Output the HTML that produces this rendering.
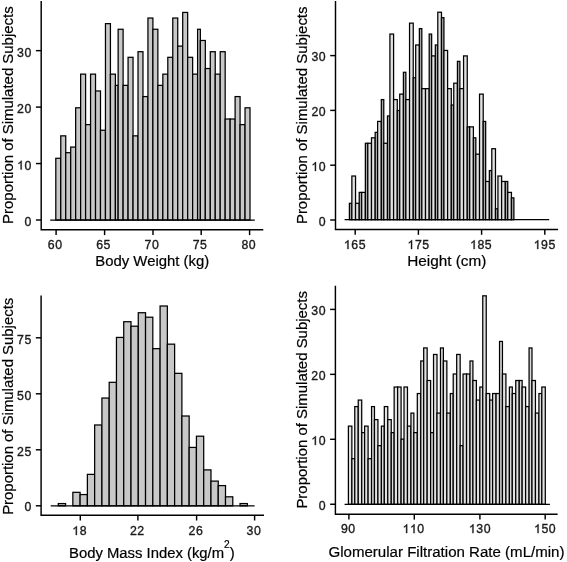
<!DOCTYPE html>
<html><head><meta charset="utf-8"><title>Histograms</title>
<style>
html,body{margin:0;padding:0;background:#fff;}
svg{display:block;filter:grayscale(1) blur(0.35px);}
text{font-family:"Liberation Sans",sans-serif;}
</style></head><body>
<svg width="567" height="562" viewBox="0 0 567 562">
<rect width="567" height="562" fill="#ffffff"/>
<g>
<g fill="#c8c8c8" stroke="#000" stroke-width="1.25" stroke-linejoin="miter">
<rect x="55.80" y="158.29" width="4.966" height="61.71"/>
<rect x="60.77" y="135.85" width="4.966" height="84.15"/>
<rect x="65.73" y="152.68" width="4.966" height="67.32"/>
<rect x="70.70" y="147.07" width="4.966" height="72.93"/>
<rect x="75.66" y="107.80" width="4.966" height="112.20"/>
<rect x="80.63" y="74.14" width="4.966" height="145.86"/>
<rect x="85.60" y="124.63" width="4.966" height="95.37"/>
<rect x="90.56" y="74.14" width="4.966" height="145.86"/>
<rect x="95.53" y="90.97" width="4.966" height="129.03"/>
<rect x="100.49" y="130.24" width="4.966" height="89.76"/>
<rect x="105.46" y="23.65" width="4.966" height="196.35"/>
<rect x="110.43" y="74.14" width="4.966" height="145.86"/>
<rect x="115.39" y="85.36" width="2.750" height="134.64"/>
<rect x="118.14" y="29.26" width="4.966" height="190.74"/>
<rect x="123.11" y="85.36" width="4.966" height="134.64"/>
<rect x="128.07" y="57.31" width="4.966" height="162.69"/>
<rect x="133.04" y="135.85" width="4.966" height="84.15"/>
<rect x="138.01" y="51.70" width="4.966" height="168.30"/>
<rect x="142.97" y="96.58" width="4.966" height="123.42"/>
<rect x="147.94" y="18.04" width="4.966" height="201.96"/>
<rect x="152.90" y="29.26" width="4.966" height="190.74"/>
<rect x="157.87" y="85.36" width="4.966" height="134.64"/>
<rect x="162.84" y="74.14" width="4.966" height="145.86"/>
<rect x="167.80" y="57.31" width="4.966" height="162.69"/>
<rect x="172.77" y="18.04" width="4.966" height="201.96"/>
<rect x="177.73" y="46.09" width="4.966" height="173.91"/>
<rect x="182.70" y="12.43" width="4.966" height="207.57"/>
<rect x="187.67" y="57.31" width="4.966" height="162.69"/>
<rect x="192.63" y="74.14" width="4.966" height="145.86"/>
<rect x="197.60" y="29.26" width="2.750" height="190.74"/>
<rect x="200.35" y="40.48" width="4.966" height="179.52"/>
<rect x="205.31" y="68.53" width="4.966" height="151.47"/>
<rect x="210.28" y="51.70" width="4.966" height="168.30"/>
<rect x="215.25" y="74.14" width="4.966" height="145.86"/>
<rect x="220.21" y="51.70" width="4.966" height="168.30"/>
<rect x="225.18" y="119.02" width="4.966" height="100.98"/>
<rect x="230.14" y="119.02" width="4.966" height="100.98"/>
<rect x="235.11" y="96.58" width="4.966" height="123.42"/>
<rect x="240.08" y="124.63" width="4.966" height="95.37"/>
<rect x="245.04" y="107.80" width="4.966" height="112.20"/>
</g>
<line x1="50.2" y1="220.0" x2="254.8" y2="220.0" stroke="#000" stroke-width="1.25"/>
<g stroke="#000" stroke-width="1.45" fill="none">
<path d="M41.2 1.0 V229.8 H263.3"/>
<line x1="35.90" y1="220.00" x2="41.2" y2="220.00"/>
<line x1="35.90" y1="163.55" x2="41.2" y2="163.55"/>
<line x1="35.90" y1="107.10" x2="41.2" y2="107.10"/>
<line x1="35.90" y1="50.65" x2="41.2" y2="50.65"/>
<line x1="56.1" y1="229.8" x2="56.1" y2="235.10"/>
<line x1="104.6" y1="229.8" x2="104.6" y2="235.10"/>
<line x1="153.0" y1="229.8" x2="153.0" y2="235.10"/>
<line x1="201.2" y1="229.8" x2="201.2" y2="235.10"/>
<line x1="249.6" y1="229.8" x2="249.6" y2="235.10"/>
</g>
<g font-size="12.3" fill="#1a1a1a" stroke="#1a1a1a" stroke-width="0.35">
<text x="24.49" y="226.00">0</text>
<path transform="translate(17.11 169.55) scale(0.00601 -0.00601)" d="M763 0H583V1147Q518 1085 412.5 1023Q307 961 223 930V1104Q374 1175 487 1276Q600 1377 647 1472H763Z" stroke-width="58"/><text x="24.49" y="169.55">0</text>
<text x="17.11" y="113.10">2</text><text x="24.49" y="113.10">0</text>
<text x="17.11" y="56.65">3</text><text x="24.49" y="56.65">0</text>
<text x="47.79" y="249.00">6</text><text x="55.17" y="249.00">0</text>
<text x="96.19" y="249.00">6</text><text x="103.57" y="249.00">5</text>
<text x="144.59" y="249.00">7</text><text x="151.97" y="249.00">0</text>
<text x="192.69" y="249.00">7</text><text x="200.07" y="249.00">5</text>
<text x="241.39" y="249.00">8</text><text x="248.77" y="249.00">0</text>
</g>
<text x="152.25" y="266.3" font-size="14.9" fill="#000" stroke="#000" stroke-width="0.2" text-anchor="middle">Body Weight (kg)</text>
<text transform="translate(13.3 115.15) rotate(-90)" font-size="14.95" fill="#000" stroke="#000" stroke-width="0.2" text-anchor="middle">Proportion of Simulated Subjects</text>
</g>
<g>
<g fill="#e2e2e2" stroke="#000" stroke-width="1.25" stroke-linejoin="miter">
<rect x="349.40" y="203.32" width="2.455" height="16.38" fill="#a8a8a8"/>
<rect x="351.86" y="176.02" width="3.683" height="43.68"/>
<rect x="355.54" y="203.32" width="3.683" height="16.38"/>
<rect x="359.22" y="192.40" width="2.455" height="27.30" fill="#a8a8a8"/>
<rect x="361.68" y="192.40" width="3.683" height="27.30"/>
<rect x="365.36" y="143.26" width="2.455" height="76.44" fill="#a8a8a8"/>
<rect x="367.81" y="143.26" width="3.683" height="76.44"/>
<rect x="371.50" y="137.80" width="3.683" height="81.90"/>
<rect x="375.18" y="132.34" width="2.455" height="87.36" fill="#a8a8a8"/>
<rect x="377.64" y="121.42" width="3.683" height="98.28"/>
<rect x="381.32" y="99.58" width="2.455" height="120.12" fill="#a8a8a8"/>
<rect x="383.77" y="143.26" width="3.683" height="76.44"/>
<rect x="387.46" y="115.96" width="2.455" height="103.74" fill="#a8a8a8"/>
<rect x="389.91" y="34.06" width="3.683" height="185.64"/>
<rect x="393.59" y="99.58" width="3.683" height="120.12"/>
<rect x="397.28" y="110.50" width="2.455" height="109.20" fill="#a8a8a8"/>
<rect x="399.73" y="94.12" width="3.683" height="125.58"/>
<rect x="403.41" y="72.28" width="2.455" height="147.42" fill="#a8a8a8"/>
<rect x="405.87" y="99.58" width="3.683" height="120.12"/>
<rect x="409.55" y="23.14" width="3.683" height="196.56"/>
<rect x="413.24" y="77.74" width="2.455" height="141.96" fill="#a8a8a8"/>
<rect x="415.69" y="44.98" width="3.683" height="174.72"/>
<rect x="419.37" y="28.60" width="2.455" height="191.10" fill="#a8a8a8"/>
<rect x="421.83" y="88.66" width="3.683" height="131.04"/>
<rect x="425.51" y="88.66" width="3.683" height="131.04"/>
<rect x="429.19" y="34.06" width="2.455" height="185.64" fill="#a8a8a8"/>
<rect x="431.65" y="55.90" width="3.683" height="163.80"/>
<rect x="435.33" y="44.98" width="2.455" height="174.72" fill="#a8a8a8"/>
<rect x="437.79" y="12.22" width="3.683" height="207.48"/>
<rect x="441.47" y="17.68" width="2.455" height="202.02" fill="#a8a8a8"/>
<rect x="443.93" y="50.44" width="3.683" height="169.26"/>
<rect x="447.61" y="88.66" width="3.683" height="131.04"/>
<rect x="451.29" y="105.04" width="2.455" height="114.66" fill="#a8a8a8"/>
<rect x="453.75" y="83.20" width="3.683" height="136.50"/>
<rect x="457.43" y="61.36" width="2.455" height="158.34" fill="#a8a8a8"/>
<rect x="459.89" y="88.66" width="3.683" height="131.04"/>
<rect x="463.57" y="55.90" width="3.683" height="163.80"/>
<rect x="467.25" y="126.88" width="2.455" height="92.82" fill="#a8a8a8"/>
<rect x="469.71" y="126.88" width="3.683" height="92.82"/>
<rect x="473.39" y="137.80" width="2.455" height="81.90" fill="#a8a8a8"/>
<rect x="475.84" y="154.18" width="3.683" height="65.52"/>
<rect x="479.53" y="94.12" width="3.683" height="125.58"/>
<rect x="483.21" y="121.42" width="2.455" height="98.28" fill="#a8a8a8"/>
<rect x="485.66" y="181.48" width="3.683" height="38.22"/>
<rect x="489.35" y="170.56" width="2.455" height="49.14" fill="#a8a8a8"/>
<rect x="491.80" y="148.72" width="3.683" height="70.98"/>
<rect x="495.49" y="208.78" width="2.455" height="10.92" fill="#a8a8a8"/>
<rect x="497.94" y="176.02" width="3.683" height="43.68"/>
<rect x="501.62" y="181.48" width="3.683" height="38.22"/>
<rect x="505.31" y="181.48" width="2.455" height="38.22" fill="#a8a8a8"/>
<rect x="507.76" y="192.40" width="3.683" height="27.30"/>
<rect x="511.44" y="197.86" width="2.455" height="21.84" fill="#a8a8a8"/>
</g>
<line x1="344.6" y1="219.7" x2="549.2" y2="219.7" stroke="#000" stroke-width="1.25"/>
<g stroke="#000" stroke-width="1.45" fill="none">
<path d="M335.5 1.0 V229.5 H558.1"/>
<line x1="330.20" y1="220.00" x2="335.5" y2="220.00"/>
<line x1="330.20" y1="165.20" x2="335.5" y2="165.20"/>
<line x1="330.20" y1="110.40" x2="335.5" y2="110.40"/>
<line x1="330.20" y1="55.60" x2="335.5" y2="55.60"/>
<line x1="355.2" y1="229.5" x2="355.2" y2="234.80"/>
<line x1="418.4" y1="229.5" x2="418.4" y2="234.80"/>
<line x1="481.6" y1="229.5" x2="481.6" y2="234.80"/>
<line x1="544.8" y1="229.5" x2="544.8" y2="234.80"/>
</g>
<g font-size="12.3" fill="#1a1a1a" stroke="#1a1a1a" stroke-width="0.35">
<text x="318.79" y="225.70">0</text>
<path transform="translate(311.41 170.90) scale(0.00601 -0.00601)" d="M763 0H583V1147Q518 1085 412.5 1023Q307 961 223 930V1104Q374 1175 487 1276Q600 1377 647 1472H763Z" stroke-width="58"/><text x="318.79" y="170.90">0</text>
<text x="311.41" y="116.10">2</text><text x="318.79" y="116.10">0</text>
<text x="311.41" y="61.30">3</text><text x="318.79" y="61.30">0</text>
<path transform="translate(343.90 249.00) scale(0.00601 -0.00601)" d="M763 0H583V1147Q518 1085 412.5 1023Q307 961 223 930V1104Q374 1175 487 1276Q600 1377 647 1472H763Z" stroke-width="58"/><text x="351.28" y="249.00">6</text><text x="358.66" y="249.00">5</text>
<path transform="translate(407.50 249.00) scale(0.00601 -0.00601)" d="M763 0H583V1147Q518 1085 412.5 1023Q307 961 223 930V1104Q374 1175 487 1276Q600 1377 647 1472H763Z" stroke-width="58"/><text x="414.88" y="249.00">7</text><text x="422.26" y="249.00">5</text>
<path transform="translate(470.10 249.00) scale(0.00601 -0.00601)" d="M763 0H583V1147Q518 1085 412.5 1023Q307 961 223 930V1104Q374 1175 487 1276Q600 1377 647 1472H763Z" stroke-width="58"/><text x="477.48" y="249.00">8</text><text x="484.86" y="249.00">5</text>
<path transform="translate(533.70 249.00) scale(0.00601 -0.00601)" d="M763 0H583V1147Q518 1085 412.5 1023Q307 961 223 930V1104Q374 1175 487 1276Q600 1377 647 1472H763Z" stroke-width="58"/><text x="541.08" y="249.00">9</text><text x="548.46" y="249.00">5</text>
</g>
<text x="446.80" y="266.3" font-size="15.35" fill="#000" stroke="#000" stroke-width="0.2" text-anchor="middle">Height (cm)</text>
<text transform="translate(306.8 115.30) rotate(-90)" font-size="14.95" fill="#000" stroke="#000" stroke-width="0.2" text-anchor="middle">Proportion of Simulated Subjects</text>
</g>
<g>
<g fill="#c8c8c8" stroke="#000" stroke-width="1.25" stroke-linejoin="miter">
<rect x="58.30" y="503.56" width="7.270" height="2.25"/>
<rect x="72.84" y="492.33" width="7.270" height="13.47"/>
<rect x="80.11" y="494.57" width="7.270" height="11.23"/>
<rect x="87.38" y="474.37" width="7.270" height="31.43"/>
<rect x="94.65" y="424.98" width="7.270" height="80.82"/>
<rect x="101.92" y="398.04" width="7.270" height="107.76"/>
<rect x="109.19" y="382.32" width="7.270" height="123.48"/>
<rect x="116.46" y="337.43" width="7.270" height="168.38"/>
<rect x="123.73" y="321.71" width="7.270" height="184.09"/>
<rect x="131.00" y="326.20" width="7.270" height="179.60"/>
<rect x="138.27" y="312.73" width="7.270" height="193.07"/>
<rect x="145.54" y="317.22" width="7.270" height="188.58"/>
<rect x="152.81" y="348.65" width="7.270" height="157.15"/>
<rect x="160.08" y="306.00" width="7.270" height="199.81"/>
<rect x="167.35" y="344.16" width="7.270" height="161.64"/>
<rect x="174.62" y="373.35" width="7.270" height="132.46"/>
<rect x="181.89" y="416.00" width="7.270" height="89.80"/>
<rect x="189.16" y="447.43" width="7.270" height="58.37"/>
<rect x="196.43" y="436.21" width="7.270" height="69.59"/>
<rect x="203.70" y="469.88" width="7.270" height="35.92"/>
<rect x="210.97" y="481.11" width="7.270" height="24.70"/>
<rect x="218.24" y="485.60" width="7.270" height="20.21"/>
<rect x="225.51" y="496.82" width="7.270" height="8.98"/>
<rect x="240.05" y="503.56" width="7.270" height="2.25"/>
</g>
<line x1="50.7" y1="505.8" x2="254.6" y2="505.8" stroke="#000" stroke-width="1.25"/>
<g stroke="#000" stroke-width="1.45" fill="none">
<path d="M41.1 295.5 V515.2 H264.0"/>
<line x1="35.80" y1="505.80" x2="41.1" y2="505.80"/>
<line x1="35.80" y1="449.80" x2="41.1" y2="449.80"/>
<line x1="35.80" y1="393.80" x2="41.1" y2="393.80"/>
<line x1="35.80" y1="337.80" x2="41.1" y2="337.80"/>
<line x1="80.3" y1="515.2" x2="80.3" y2="520.50"/>
<line x1="137.9" y1="515.2" x2="137.9" y2="520.50"/>
<line x1="196.6" y1="515.2" x2="196.6" y2="520.50"/>
<line x1="254.6" y1="515.2" x2="254.6" y2="520.50"/>
</g>
<g font-size="12.3" fill="#1a1a1a" stroke="#1a1a1a" stroke-width="0.35">
<text x="24.39" y="511.10">0</text>
<text x="17.01" y="455.70">2</text><text x="24.39" y="455.70">5</text>
<text x="17.01" y="399.70">5</text><text x="24.39" y="399.70">0</text>
<text x="17.01" y="343.70">7</text><text x="24.39" y="343.70">5</text>
<path transform="translate(72.29 535.00) scale(0.00601 -0.00601)" d="M763 0H583V1147Q518 1085 412.5 1023Q307 961 223 930V1104Q374 1175 487 1276Q600 1377 647 1472H763Z" stroke-width="58"/><text x="79.67" y="535.00">8</text>
<text x="129.89" y="535.00">2</text><text x="137.27" y="535.00">2</text>
<text x="188.59" y="535.00">2</text><text x="195.97" y="535.00">6</text>
<text x="246.59" y="535.00">3</text><text x="253.97" y="535.00">0</text>
</g>
<text x="151.85" y="557.6" font-size="14.85" fill="#000" stroke="#000" stroke-width="0.2" text-anchor="middle">Body Mass Index (kg/m<tspan font-size="10.2" dy="-9.6">2</tspan><tspan dy="9.6">)</tspan></text>
<text transform="translate(13.3 406.30) rotate(-90)" font-size="14.92" fill="#000" stroke="#000" stroke-width="0.2" text-anchor="middle">Proportion of Simulated Subjects</text>
</g>
<g>
<g fill="#e2e2e2" stroke="#000" stroke-width="1.25" stroke-linejoin="miter">
<rect x="348.40" y="426.12" width="3.470" height="78.18"/>
<rect x="351.87" y="458.69" width="2.904" height="45.60" fill="#dcdcdc"/>
<rect x="354.77" y="406.58" width="3.470" height="97.72"/>
<rect x="358.24" y="400.06" width="3.470" height="104.24"/>
<rect x="361.72" y="432.63" width="2.904" height="71.66" fill="#dcdcdc"/>
<rect x="364.62" y="426.12" width="3.470" height="78.18"/>
<rect x="368.09" y="458.69" width="3.470" height="45.60"/>
<rect x="371.56" y="406.58" width="2.904" height="97.72" fill="#dcdcdc"/>
<rect x="374.46" y="419.61" width="3.470" height="84.69"/>
<rect x="377.93" y="445.67" width="3.470" height="58.63"/>
<rect x="381.40" y="426.12" width="2.904" height="78.18" fill="#dcdcdc"/>
<rect x="384.31" y="406.58" width="3.470" height="97.72"/>
<rect x="387.78" y="419.61" width="3.470" height="84.69"/>
<rect x="391.25" y="432.63" width="2.904" height="71.66" fill="#dcdcdc"/>
<rect x="394.15" y="387.03" width="3.470" height="117.27"/>
<rect x="397.62" y="387.03" width="3.470" height="117.27"/>
<rect x="401.09" y="439.15" width="2.904" height="65.15" fill="#dcdcdc"/>
<rect x="404.00" y="387.03" width="3.470" height="117.27"/>
<rect x="407.47" y="426.12" width="3.470" height="78.18"/>
<rect x="410.94" y="413.09" width="2.904" height="91.21" fill="#dcdcdc"/>
<rect x="413.84" y="432.63" width="3.470" height="71.66"/>
<rect x="417.31" y="393.55" width="3.470" height="110.75"/>
<rect x="420.78" y="360.97" width="2.904" height="143.33" fill="#dcdcdc"/>
<rect x="423.69" y="347.94" width="3.470" height="156.36"/>
<rect x="427.16" y="380.51" width="3.470" height="123.78"/>
<rect x="430.63" y="432.63" width="2.904" height="71.66" fill="#dcdcdc"/>
<rect x="433.53" y="354.46" width="3.470" height="149.84"/>
<rect x="437.00" y="413.09" width="3.470" height="91.21"/>
<rect x="440.47" y="347.94" width="2.904" height="156.36" fill="#dcdcdc"/>
<rect x="443.38" y="360.97" width="3.470" height="143.33"/>
<rect x="446.85" y="413.09" width="3.470" height="91.21"/>
<rect x="450.32" y="393.55" width="2.904" height="110.75" fill="#dcdcdc"/>
<rect x="453.22" y="374.00" width="3.470" height="130.30"/>
<rect x="456.69" y="354.46" width="3.470" height="149.84"/>
<rect x="460.16" y="445.67" width="2.904" height="58.63" fill="#dcdcdc"/>
<rect x="463.07" y="374.00" width="3.470" height="130.30"/>
<rect x="466.54" y="374.00" width="3.470" height="130.30"/>
<rect x="470.01" y="360.97" width="2.904" height="143.33" fill="#dcdcdc"/>
<rect x="472.91" y="380.51" width="3.470" height="123.78"/>
<rect x="476.38" y="400.06" width="3.470" height="104.24"/>
<rect x="479.85" y="387.03" width="2.904" height="117.27" fill="#dcdcdc"/>
<rect x="482.76" y="295.82" width="3.470" height="208.48"/>
<rect x="486.23" y="393.55" width="3.470" height="110.75"/>
<rect x="489.70" y="400.06" width="2.904" height="104.24" fill="#dcdcdc"/>
<rect x="492.60" y="393.55" width="3.470" height="110.75"/>
<rect x="496.07" y="393.55" width="3.470" height="110.75"/>
<rect x="499.54" y="341.43" width="2.904" height="162.88" fill="#dcdcdc"/>
<rect x="502.45" y="374.00" width="3.470" height="130.30"/>
<rect x="505.92" y="406.58" width="3.470" height="97.72"/>
<rect x="509.39" y="387.03" width="2.904" height="117.27" fill="#dcdcdc"/>
<rect x="512.29" y="393.55" width="3.470" height="110.75"/>
<rect x="515.76" y="380.51" width="3.470" height="123.78"/>
<rect x="519.23" y="380.51" width="2.904" height="123.78" fill="#dcdcdc"/>
<rect x="522.14" y="387.03" width="3.470" height="117.27"/>
<rect x="525.61" y="406.58" width="3.470" height="97.72"/>
<rect x="529.08" y="347.94" width="2.904" height="156.36" fill="#dcdcdc"/>
<rect x="531.98" y="380.51" width="3.470" height="123.78"/>
<rect x="535.45" y="413.09" width="3.470" height="91.21"/>
<rect x="538.92" y="393.55" width="2.904" height="110.75" fill="#dcdcdc"/>
<rect x="541.83" y="387.03" width="3.470" height="117.27"/>
</g>
<line x1="344.6" y1="504.3" x2="549.9" y2="504.3" stroke="#000" stroke-width="1.25"/>
<g stroke="#000" stroke-width="1.45" fill="none">
<path d="M335.4 285.7 V514.3 H557.6"/>
<line x1="330.10" y1="504.25" x2="335.4" y2="504.25"/>
<line x1="330.10" y1="439.30" x2="335.4" y2="439.30"/>
<line x1="330.10" y1="374.35" x2="335.4" y2="374.35"/>
<line x1="330.10" y1="309.40" x2="335.4" y2="309.40"/>
<line x1="348.9" y1="514.3" x2="348.9" y2="519.60"/>
<line x1="414.3" y1="514.3" x2="414.3" y2="519.60"/>
<line x1="479.9" y1="514.3" x2="479.9" y2="519.60"/>
<line x1="545.2" y1="514.3" x2="545.2" y2="519.60"/>
</g>
<g font-size="12.3" fill="#1a1a1a" stroke="#1a1a1a" stroke-width="0.35">
<text x="318.69" y="509.95">0</text>
<path transform="translate(311.31 445.00) scale(0.00601 -0.00601)" d="M763 0H583V1147Q518 1085 412.5 1023Q307 961 223 930V1104Q374 1175 487 1276Q600 1377 647 1472H763Z" stroke-width="58"/><text x="318.69" y="445.00">0</text>
<text x="311.31" y="380.05">2</text><text x="318.69" y="380.05">0</text>
<text x="311.31" y="315.10">3</text><text x="318.69" y="315.10">0</text>
<text x="340.89" y="533.10">9</text><text x="348.27" y="533.10">0</text>
<path transform="translate(402.60 533.10) scale(0.00601 -0.00601)" d="M763 0H583V1147Q518 1085 412.5 1023Q307 961 223 930V1104Q374 1175 487 1276Q600 1377 647 1472H763Z" stroke-width="58"/><path transform="translate(409.98 533.10) scale(0.00601 -0.00601)" d="M763 0H583V1147Q518 1085 412.5 1023Q307 961 223 930V1104Q374 1175 487 1276Q600 1377 647 1472H763Z" stroke-width="58"/><text x="417.36" y="533.10">0</text>
<path transform="translate(468.90 533.10) scale(0.00601 -0.00601)" d="M763 0H583V1147Q518 1085 412.5 1023Q307 961 223 930V1104Q374 1175 487 1276Q600 1377 647 1472H763Z" stroke-width="58"/><text x="476.28" y="533.10">3</text><text x="483.66" y="533.10">0</text>
<path transform="translate(534.00 533.10) scale(0.00601 -0.00601)" d="M763 0H583V1147Q518 1085 412.5 1023Q307 961 223 930V1104Q374 1175 487 1276Q600 1377 647 1472H763Z" stroke-width="58"/><text x="541.38" y="533.10">5</text><text x="548.76" y="533.10">0</text>
</g>
<text x="446.50" y="557.4" font-size="15.07" fill="#000" stroke="#000" stroke-width="0.2" text-anchor="middle">Glomerular Filtration Rate (mL/min)</text>
<text transform="translate(306.7 399.85) rotate(-90)" font-size="14.94" fill="#000" stroke="#000" stroke-width="0.2" text-anchor="middle">Proportion of Simulated Subjects</text>
</g>
</svg>
</body></html>
